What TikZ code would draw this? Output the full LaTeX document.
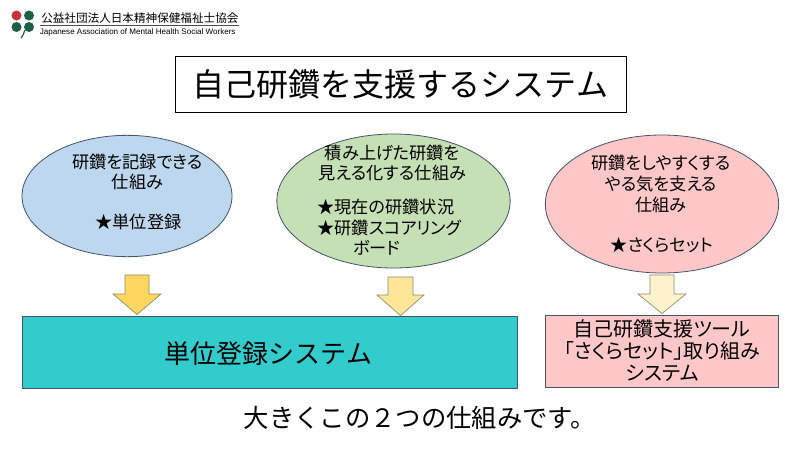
\documentclass[tikz,border=0pt]{standalone}
\usepackage{fontspec}
\usetikzlibrary{shapes.geometric}
\setmainfont{Noto Sans CJK JP}
\newfontfamily\latinf{Liberation Sans}
\newcommand{\palted}{\addfontfeature{RawFeature=+palt}}
\definecolor{bluefill}{HTML}{BDD7EE}
\definecolor{greenfill}{HTML}{C5E0B4}
\definecolor{pinkfill}{HTML}{FFC7C7}
\definecolor{teal1}{HTML}{33CCCC}
\definecolor{ar1}{HTML}{FFD65F}
\definecolor{ar2}{HTML}{FFE699}
\definecolor{ar3}{HTML}{FFF2CC}
\definecolor{edge}{HTML}{44546A}
\definecolor{arredge}{HTML}{8C8A6A}
\definecolor{logored}{HTML}{C8323C}
\definecolor{logogreen}{HTML}{1F5F46}
\tikzset{
 oval/.style={ellipse,draw=edge,line width=0.6pt,inner sep=0pt},
 boxn/.style={rectangle,draw=edge,line width=0.6pt,inner sep=0pt,align=center},
 arr/.style={draw=arredge,line width=0.5pt},
 txt/.style={inner sep=0pt,align=center},
 body/.style={txt,font=\fontsize{12.9}{15.4}\selectfont\palted},
 leaf/.style={circle,minimum size=7.5pt,inner sep=0pt}
}
\begin{document}
\begin{tikzpicture}[x=0.75pt,y=-0.75pt]
\useasboundingbox (0,0) rectangle (800,450);
\fill[white] (0,0) rectangle (800,450);
% logo
\node[leaf,fill=logored] (l1) at (16.5,15.5) {};
\node[leaf,fill=logogreen] (l2) at (29,15.5) {};
\node[leaf,fill=logogreen] (l3) at (16.5,27) {};
\node[leaf,fill=logogreen] (l4) at (29,27) {};
\draw[logogreen,line width=0.9pt] (l4) .. controls (24,31) and (24,35) .. (21,38);
\node[txt,anchor=west,font=\fontsize{8.7}{9}\selectfont] (logo1) at (41,18) {公益社団法人日本精神保健福祉士協会};
\coordinate (lineA) at (40,25.5);
\coordinate (lineB) at (239,25.5);
\draw[line width=0.4pt,black!70] (lineA) -- (lineB);
\node[txt,anchor=west,font=\latinf\fontsize{6.05}{7}\selectfont] (logo2) at (39.5,32) {Japanese Association of Mental Health Social Workers};
% title
\node[boxn,draw=black,minimum width=338.25pt,minimum height=42pt,font=\fontsize{24}{28}\selectfont] (title) at (400.5,84) {自己研鑽を支援するシステム};
% ovals
\node[oval,fill=bluefill,minimum width=157.5pt,minimum height=91pt] (o1) at (127,196) {};
\node[body] (t1) at (137.5,172) {研鑽を記録できる\\仕組み};
\node[body] (t1b) at (138.5,222) {★単位登録};
\node[oval,fill=greenfill,minimum width=175pt,minimum height=100.5pt] (o2) at (393.5,201) {};
\node[body] (t2) at (392.5,163) {積み上げた研鑽を\\見える化する仕組み};
\node[body,anchor=north west,align=left] (t2b) at (317,199) {★現在の研鑽状況\\★研鑽スコアリング\\\hspace*{2.1em}ボード};
\node[oval,fill=pinkfill,minimum width=175pt,minimum height=103.5pt] (o3) at (662,204) {};
\node[body] (t3) at (661,184) {研鑽をしやすくする\\やる気を支える\\仕組み};
\node[body] (t3b) at (662,245) {★さくらセット};
% boxes
\node[boxn,fill=teal1,minimum width=371.25pt,minimum height=54pt] (b1) at (269.5,352) {};
\node[txt,font=\fontsize{19.5}{22}\selectfont] (b1t) at (268.5,354) {単位登録システム};
\node[boxn,fill=pinkfill,minimum width=175pt,minimum height=54pt,font=\fontsize{15}{16.5}\selectfont\palted] (b2) at (662,351) {自己研鑽支援ツール\\「さくらセット」取り組み\\システム};
\node[txt,font=\fontsize{19}{24}\selectfont] (cap) at (420,418) {大きくこの２つの仕組みです。};
% arrows
\draw[arr,fill=ar1] (125,275) -- (149,275) -- (149,294) -- (161,294) -- (137,314.5) -- (113,294) -- (125,294) -- cycle;
\draw[arr,fill=ar2] (388,277) -- (413,277) -- (413,295) -- (424,295) -- (400.5,315.5) -- (377,295) -- (388,295) -- cycle;
\draw[arr,fill=ar3] (650,275) -- (674,275) -- (674,294) -- (686,294) -- (662,313.5) -- (638,294) -- (650,294) -- cycle;
\end{tikzpicture}
\end{document}
